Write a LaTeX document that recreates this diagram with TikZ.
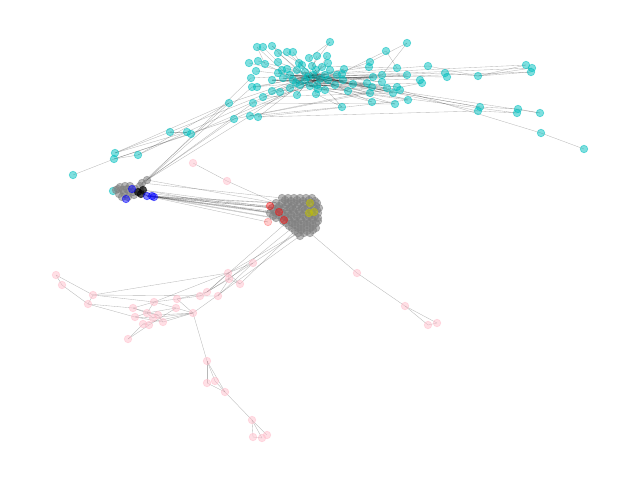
\documentclass[tikz,border=0pt]{standalone}
\usetikzlibrary{backgrounds}
\definecolor{tealc}{rgb}{0,0.75,0.75}
\definecolor{pinkc}{rgb}{1,0.75,0.8}
\definecolor{grayc}{rgb}{0.5,0.5,0.5}
\definecolor{bluec}{rgb}{0,0,1}
\definecolor{redc}{rgb}{1,0,0}
\definecolor{yelc}{rgb}{0.75,0.75,0}
\tikzset{
  nd/.style={circle, inner sep=0pt, minimum size=7.5pt, line width=0.7pt, fill opacity=0.5, draw opacity=0.55},
  tn/.style={nd, draw=tealc, fill=tealc},
  pn/.style={nd, draw=pinkc, fill=pinkc},
  gn/.style={nd, draw=grayc, fill=grayc, fill opacity=0.55},
  bn/.style={nd, draw=bluec, fill=bluec},
  kn/.style={nd, draw=black, fill=black, fill opacity=0.7},
  rn/.style={nd, draw=redc, fill=redc, fill opacity=0.4, draw opacity=0.45},
  yn/.style={nd, draw=yelc, fill=yelc},
  ed/.style={draw=black, draw opacity=0.28, line width=0.35pt}
}
\begin{document}
\begin{tikzpicture}[x=1pt,y=-1pt]
\useasboundingbox (0,0) rectangle (640,480);
% teal nodes
\foreach \n/\x/\y in {t1/330/42, t2/407/43, t3/257/47, t4/263/47, t5/272/46, t6/278/53, t7/287/52, t8/293/52,
 t9/249/63, t10/258/61, t11/265/64, t12/278/62, t13/299/63, t14/309/58, t15/317/56, t16/327/56, t17/328/63,
 t18/386/51, t19/256/71, t20/282/70, t21/287/69, t22/297/70, t23/302/65, t24/312/66, t25/322/67, t26/330/70,
 t27/344/69, t28/370/62, t29/369/67, t30/397/68, t31/428/66, t32/251/78, t33/278/73, t34/293/80, t35/305/80,
 t36/308/77, t37/313/75, t38/320/79, t39/328/80, t40/337/75, t41/342/74, t42/373/77, t43/382/75, t44/382/82,
 t45/407/75, t46/420/80, t47/422/83, t48/252/87, t49/257/87, t50/272/91, t51/280/92, t52/290/88, t53/310/86,
 t54/317/85, t55/353/84, t56/348/91, t57/367/83, t58/372/87, t59/387/88, t60/397/87, t61/400/90, t62/297/95,
 t63/316/94, t64/263/97, t65/370/93, t66/393/93, t67/408/100, t68/372/102, t69/395/104, t70/229/103,
 t71/253/103, t72/342/107, t73/250/116, t74/258/117, t75/234/119, t76/170/132, t77/187/132, t78/191/134,
 t79/115/153, t80/114/159, t81/138/155, t82/73/175, t83/445/73, t84/447/77, t85/478/76, t86/526/65,
 t87/532/68, t88/531/72, t89/480/107, t90/478/111, t91/518/109, t92/517/113, t93/540/113, t94/541/133,
 t95/584/149, t96/305/72, t97/316/70, t98/318/89, t99/300/85, t100/325/75, t101/335/85, t102/290/75,
 t103/283/78, t104/296/83, t105/272/80, t106/325/90, t107/343/80}
  \node[tn] (\n) at (\x,\y) {};
% pink nodes
\foreach \n/\x/\y in {p1/193/163, p2/227/181, p3/357/273, p4/405/306, p5/428/325, p6/437/323, p7/56/275,
 p8/62/285, p9/93/295, p10/88/304, p11/133/308, p12/154/302, p13/177/299, p14/200/296, p15/207/292,
 p16/218/296, p17/228/273, p18/229/279, p19/240/284, p20/253/263, p21/176/308, p22/193/313, p23/135/317,
 p24/147/313, p25/153/318, p26/158/315, p27/163/322, p28/143/324, p29/149/325, p30/128/339, p31/207/361,
 p32/207/383, p33/215/381, p34/225/392, p35/252/420, p36/253/437, p37/262/438, p38/267/435}
  \node[pn] (\n) at (\x,\y) {};
% central gray cluster
\foreach \x/\y [count=\i] in {282/198,288/198,294/198,300/198,306/198,312/198,
 276/203,282/203,288/203,294/203,300/203,306/203,312/203,317/203,
 272/208,278/208,284/208,290/208,296/208,302/208,308/208,314/208,319/208,
 270/213,276/213,282/213,288/213,294/213,300/213,306/213,312/213,318/213,
 276/218,282/218,288/218,294/218,300/218,306/218,312/218,318/218,
 286/223,292/223,298/223,304/223,310/223,316/223,
 292/228,298/228,304/228,310/228,316/228,
 298/233,304/233,310/233}
  \node[gn] (g\i) at (\x,\y) {};
\foreach \x/\y [count=\i] in {285/200,291/201,297/200,303/201,309/200,315/201,
 279/206,286/205,292/206,298/205,304/206,310/205,316/206,
 274/211,280/210,287/211,293/210,299/211,305/210,311/211,317/210,
 273/216,279/215,285/216,291/215,297/216,303/215,309/216,315/216,
 283/221,289/220,295/221,301/220,307/221,313/220,318/221,
 289/226,295/225,301/226,307/225,313/226,
 295/231,301/230,307/231,313/230, 300/236}
  \node[gn] (h\i) at (\x,\y) {};
\node[rn] (r1) at (270,206) {};
\node[rn] (r2) at (279,212) {};
\node[rn] (r3) at (284,220) {};
\node[rn, fill opacity=0.2, draw opacity=0.25] (r4) at (268,222) {};
\node[yn] (y1) at (310,203) {};
\node[yn] (y2) at (314,212) {};
\node[yn] (y3) at (309,213) {};
% left cluster
\node[tn] (l0) at (113,191) {};
\foreach \n/\x/\y in {l1/116/190, l2/120/187, l3/125/186, l4/130/186, l5/119/194, l6/124/193, l7/129/192,
 l8/135/189, l9/122/197, l10/128/197, l11/134/195, l12/140/186, l13/142/183, l14/147/180, l15/118/189,
 l16/127/189, l17/133/192, l18/123/190}
  \node[gn] (\n) at (\x,\y) {};
\node[kn] (k1) at (138,192) {};
\node[kn] (k2) at (143,190) {};
\node[kn] (k3) at (141,194) {};
\node[bn] (b1) at (132,189) {};
\node[bn] (b2) at (126,199) {};
\node[bn] (b3) at (147,196) {};
\node[bn] (b4) at (152,196) {};
\node[bn] (b5) at (154,197) {};
\begin{scope}[on background layer]
\foreach \a/\b in {t1/t14, t1/t24, t2/t28, t2/t43, t3/t11, t3/t20, t4/t12, t5/t22, t5/t13, t6/t36, t7/t37,
 t8/t23, t9/t36, t10/t37, t11/t53, t12/t38, t13/t37, t14/t38, t15/t36, t16/t53, t17/t37, t18/t40, t18/t30,
 t19/t36, t20/t37, t21/t38, t22/t36, t23/t53, t25/t37, t26/t36, t27/t36, t28/t38, t29/t37, t30/t24, t31/t37,
 t31/t85, t32/t37, t33/t36, t34/t37, t35/t38, t39/t36, t40/t53, t41/t37, t42/t36, t43/t53, t44/t37, t45/t38,
 t46/t36, t47/t53, t48/t36, t49/t37, t50/t38, t51/t36, t52/t37, t54/t36, t55/t37, t56/t38, t57/t53, t58/t36,
 t59/t37, t60/t38, t61/t36, t62/t37, t63/t36, t64/t38, t65/t36, t66/t37, t67/t53, t68/t38, t69/t36, t70/t37,
 t71/t53, t72/t63, t72/t37, t73/t36, t74/t37, t75/t38, t76/t36, t77/t37, t78/t38, t79/t76, t79/t77, t80/t78,
 t80/t81, t81/t70, t82/t80, t79/t70, t80/t75, t76/t77, t81/t77, t83/t36, t84/t37, t85/t83, t85/t86, t85/t87,
 t85/t88, t86/t37, t87/t36, t88/t38, t89/t36, t90/t37, t89/t91, t90/t92, t91/t93, t92/t53, t93/t38, t94/t61,
 t94/t95, t89/t38, t73/t47, t74/t67, t75/t59, t71/t69, t64/t66, t50/t59, t48/t45, t74/t90, t73/t72,
 t96/t37, t97/t36, t98/t37, t99/t38, t100/t36, t101/t53, t102/t37, t103/t38, t104/t36, t105/t37, t106/t36,
 t107/t53, t96/t53, t97/t98, t99/t100, t102/t101, t104/t106, t105/t107, t33/t98, t20/t99, t34/t100,
 t62/t97, t52/t101, t55/t104, t57/t102, t42/t103, t58/t105, t44/t96, t59/t99, t60/t103, t43/t104,
 t65/t102, t66/t105, t67/t96, t68/t103, t69/t98, t56/t102, t27/t104}
  \draw[ed] (\a.center) -- (\b.center);
\foreach \a/\b in {l13/t75, l13/t70, l14/t73, l14/t71, l12/t48, l14/t32, l0/l1, l1/l2, l2/l3, l3/l4,
 l4/l8, l8/l12, l12/l13, l13/l14, l5/l6, l6/l7, l7/k1, k1/k2, k2/b3, k3/b4, l9/l10, l10/l11, l11/k3,
 b1/k2, b2/l11, b3/b4, b4/b5, k1/b3, k2/b4, l12/k2, l13/k2, l14/k2, k3/b5,
 b3/g24, b4/g15, b5/g7, b4/r1, b3/r2, k2/g16, b5/g25, b4/g8, k3/g33, b3/r4, l13/g1, k1/g15, b5/r3,
 l14/g7, k2/g24, b5/g16, b4/g25,
 g1/g10, g7/g19, g15/g30, g24/g37, g33/g44, g41/g53, g5/g39, r1/g18, r2/g28, r3/g43, y1/g20, y2/g29,
 p1/p2, p2/g7, p3/p4, p4/p5, p4/p6, p5/p6, g54/p3, g52/p20, g52/p17, g47/p18, g48/p19, g53/p22, g41/p15,
 p7/p9, p7/p8, p8/p10, p9/p10, p9/p17, p9/p12, p10/p11, p10/p23, p11/p12, p11/p24, p12/p13, p12/p17,
 p13/p14, p13/p15, p14/p18, p15/p17, p16/p18, p16/p20, p17/p18, p17/p19, p18/p19, p17/p20, p11/p26,
 p23/p25, p23/p27, p24/p26, p25/p22, p26/p22, p27/p22, p28/p22, p29/p21, p28/p30, p29/p30, p21/p22,
 p21/p12, p22/p31, p31/p32, p31/p33, p31/p34, p32/p34, p33/p34, p34/p35, p35/p36, p35/p37, p35/p38,
 p36/p37, p12/p24, p24/p25, p25/p26, p26/p27, p28/p29, p23/p24, p24/p21, p13/p22, p15/p20, p9/p16}
  \draw[ed] (\a.center) -- (\b.center);
\end{scope}
\end{tikzpicture}
\end{document}
